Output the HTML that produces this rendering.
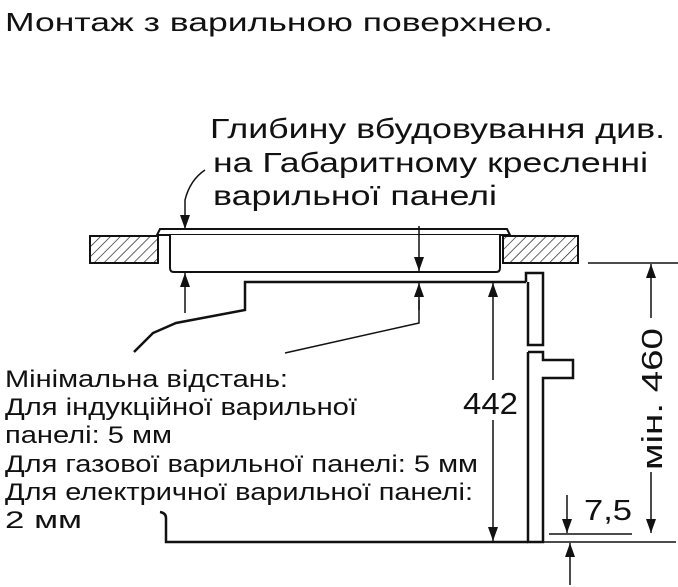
<!DOCTYPE html>
<html><head><meta charset="utf-8"><style>
html,body{margin:0;padding:0;background:#fff;}
svg{display:block;}
text{font-family:"Liberation Sans",Arial,sans-serif;fill:#111;}
</style></head><body>
<svg width="678" height="587" viewBox="0 0 678 587" xmlns="http://www.w3.org/2000/svg">
<defs>
<pattern id="h" width="7" height="7" patternUnits="userSpaceOnUse" patternTransform="rotate(45)">
<line x1="0" y1="0" x2="0" y2="7" stroke="#111" stroke-width="1.3"/>
</pattern>
<marker id="a" markerWidth="14" markerHeight="10" refX="14" refY="5" orient="auto" markerUnits="userSpaceOnUse" viewBox="0 0 14 10">
<path d="M0,0 L14,5 L0,10 Z" fill="#111"/>
</marker>
</defs>
<text x="5" y="31" font-size="26" textLength="548" lengthAdjust="spacingAndGlyphs">Монтаж з варильною поверхнею.</text>
<text x="210" y="138" font-size="28" textLength="455" lengthAdjust="spacingAndGlyphs">Глибину вбудовування див.</text>
<text x="213" y="172" font-size="28" textLength="435" lengthAdjust="spacingAndGlyphs">на Габаритному кресленні</text>
<text x="213" y="205" font-size="28" textLength="284" lengthAdjust="spacingAndGlyphs">варильної панелі</text>

<g stroke="#111" stroke-width="2" fill="none">
<rect x="90" y="236" width="68" height="27" fill="url(#h)"/>
<rect x="503" y="236" width="75" height="27" fill="url(#h)"/>
<path d="M157,235 L160,229 L507,229 L510,235 Z" fill="#fff"/>
<path d="M170,235 L170,268 Q170,272 174,272 L496,272 Q500,272 500,268 L500,235" fill="#fff"/>
<path d="M526,282 L245,282 L245,310 L176,323 L153,333 L134,352" stroke-width="2.5"/>
<path d="M285,353 L419,323 L419,300" stroke-width="1.5"/>
<path d="M526,282 L526,273 L543,273 L543,345 L528,345 L528,282" stroke-width="2.5"/>
<path d="M528,352 L543,352 L543,360 L573,360 L573,378 L543,378 L543,542 L528,542 L528,352" stroke-width="2.5"/>
<path d="M160,512 Q166,513 166,518 L166,542 L528,542" stroke-width="2.5"/>
<line x1="588" y1="263" x2="678" y2="263" stroke-width="1.5"/>
<line x1="549" y1="534" x2="632" y2="534" stroke-width="1.5"/>
<line x1="536" y1="542" x2="676" y2="542" stroke-width="1.5"/>
<path d="M205,170 Q190,180 185,200 L185,229" stroke-width="1.5" marker-end="url(#a)"/>
<line x1="185" y1="313" x2="185" y2="273" stroke-width="1.5" marker-end="url(#a)"/>
<line x1="419" y1="226" x2="419" y2="271" stroke-width="1.5" marker-end="url(#a)"/>
<line x1="419" y1="310" x2="419" y2="283" stroke-width="1.5" marker-end="url(#a)"/>
<line x1="493" y1="380" x2="493" y2="283" stroke-width="1.5" marker-end="url(#a)"/>
<line x1="493" y1="420" x2="493" y2="541" stroke-width="1.5" marker-end="url(#a)"/>
<line x1="651" y1="318" x2="651" y2="264" stroke-width="1.5" marker-end="url(#a)"/>
<line x1="651" y1="472" x2="651" y2="533" stroke-width="1.5" marker-end="url(#a)"/>
<line x1="567" y1="495" x2="567" y2="533" stroke-width="1.5" marker-end="url(#a)"/>
<line x1="570" y1="585" x2="570" y2="543" stroke-width="1.5" marker-end="url(#a)"/>
</g>

<text x="463" y="414" font-size="31" textLength="55" lengthAdjust="spacingAndGlyphs">442</text>
<text x="584" y="520" font-size="29" textLength="48" lengthAdjust="spacingAndGlyphs">7,5</text>
<text transform="translate(662,470) rotate(-90)" font-size="29" textLength="142" lengthAdjust="spacingAndGlyphs">мін. 460</text>

<g font-size="24">
<text x="5" y="387" textLength="283" lengthAdjust="spacingAndGlyphs">Мінімальна відстань:</text>
<text x="5" y="415" textLength="352" lengthAdjust="spacingAndGlyphs">Для індукційної варильної</text>
<text x="5" y="443" textLength="167" lengthAdjust="spacingAndGlyphs">панелі: 5 мм</text>
<text x="5" y="472" textLength="473" lengthAdjust="spacingAndGlyphs">Для газової варильної панелі: 5 мм</text>
<text x="5" y="500" textLength="468" lengthAdjust="spacingAndGlyphs">Для електричної варильної панелі:</text>
<text x="5" y="528" textLength="77" lengthAdjust="spacingAndGlyphs">2 мм</text>
</g>
</svg>
</body></html>
